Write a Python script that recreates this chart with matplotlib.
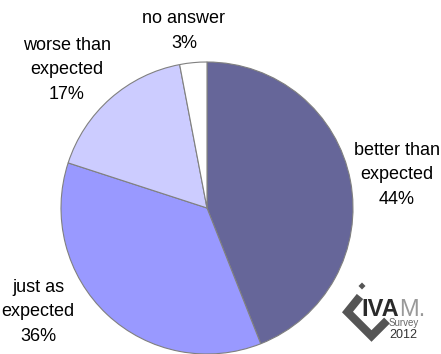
import matplotlib
matplotlib.use("Agg")
import matplotlib.pyplot as plt
from matplotlib.patches import Polygon
from matplotlib.lines import Line2D

categories = ["better than\nexpected", "just as\nexpected", "worse than\nexpected", "no answer"]
values = [44, 36, 17, 3]
colors = ["#666699", "#9999FF", "#CCCCFF", "#FFFFFF"]

plt.rcParams['font.family'] = ['Liberation Sans', 'DejaVu Sans']

W, H = 441, 354
fig = plt.figure(figsize=(W / 100, H / 100), dpi=100)
ax = fig.add_axes([(207 - 146) / W, 0.0, 292 / W, 292 / H])
ax.pie(values, colors=colors, startangle=90, counterclock=False,
       wedgeprops=dict(edgecolor="#808080", linewidth=0.8))
ax.set_xlim(-1, 1)
ax.set_ylim(-1, 1)
ax.set_aspect("equal")
ax.axis("off")

def fx(x):
    return x / W
def fy(y):
    return 1 - y / H

labels = [f"{c}\n{v}%" for c, v in zip(categories, values)]
positions = [(397, 175), (38, 312), (67, 70), (184, 31)]
for lab, (px, py) in zip(labels, positions):
    fig.text(fx(px), fy(py), lab, ha="center", va="center",
             fontsize=13, linespacing=1.55, color="black")

# logo
pts = [(360, 296.5), (347.5, 312), (371.5, 336), (387, 320.5)]
fig.add_artist(Line2D([fx(a) for a, b in pts], [fy(b) for a, b in pts],
                      transform=fig.transFigure, color="#555555", linewidth=5.9,
                      solid_joinstyle="miter", solid_capstyle="butt"))
dot = [(362, 282.5), (365.5, 286), (362, 289.5), (358.5, 286)]
fig.patches.append(Polygon([(fx(a), fy(b)) for a, b in dot], closed=True,
                           transform=fig.transFigure, facecolor="#555555", edgecolor="none"))
t_iva = fig.text(fx(361), fy(316.5), "IVA", fontsize=17, fontweight="bold", color="#2a2a2a",
                 ha="left", va="baseline")
fig.canvas.draw()
bb = t_iva.get_window_extent()
fig.text(bb.x1 / W + 0.5 / W, fy(316.5), "M.", fontsize=17, color="#999999",
         ha="left", va="baseline")
fig.text(fx(389), fy(326.5), "Survey", fontsize=7, color="#666666", ha="left", va="baseline")
fig.text(fx(389), fy(338), "2012", fontsize=9, color="#333333", ha="left", va="baseline")

fig.savefig("out.png", dpi=100)
